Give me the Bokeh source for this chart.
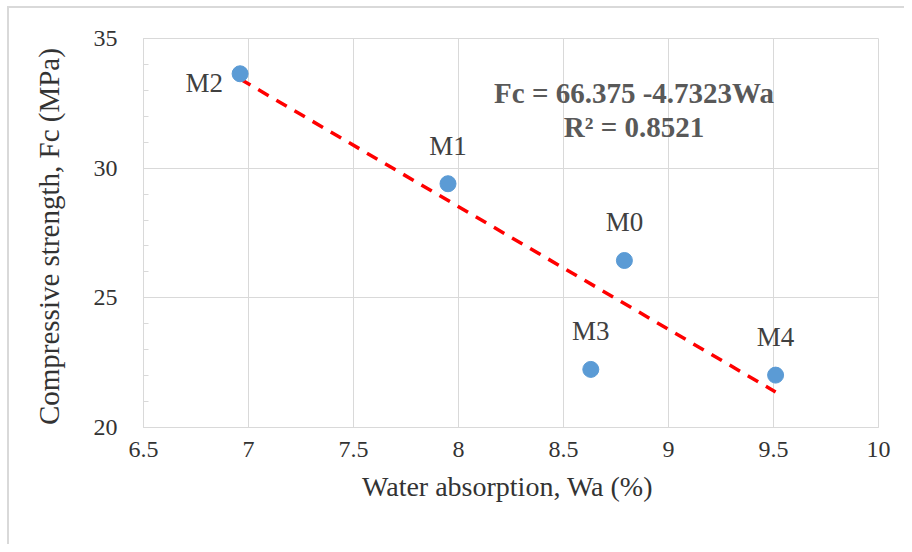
from bokeh.plotting import figure
from bokeh.models import Range1d, SingleIntervalTicker, ColumnDataSource
from bokeh.core.properties import value
from bokeh.embed import file_html
from bokeh.resources import INLINE

# ---- data ----
mix_names = ["M2", "M1", "M0", "M3", "M4"]
water_absorption = [6.96, 7.95, 8.79, 8.63, 9.51]
compressive_strength = [33.64, 29.40, 26.44, 22.24, 22.02]
fit_intercept = 66.375
fit_slope = -4.7323
fit_r2 = 0.8521
x_ticks = [6.5, 7, 7.5, 8, 8.5, 9, 9.5, 10]
y_ticks = [20, 25, 30, 35]

FONT = "Liberation Serif"

p = figure(width=904, height=544, output_backend="svg", toolbar_location=None,
           x_range=Range1d(6.5, 10), y_range=Range1d(20, 35),
           min_border_left=143, min_border_right=26, min_border_top=38, min_border_bottom=117)
p.background_fill_color = "white"
p.border_fill_color = None
p.outline_line_color = "#d9d9d9"
p.outline_line_width = 1

# outer chart-area border (left and top edges visible), drawn behind the transparent canvas margin
p.styles = {
    "background-color": "white",
    "background-image": "linear-gradient(#d9d9d9, #d9d9d9), linear-gradient(#d9d9d9, #d9d9d9)",
    "background-size": "2px 100%, 100% 2px",
    "background-position": "7px 6px, 7px 6px",
    "background-repeat": "no-repeat",
}

p.xaxis.ticker = SingleIntervalTicker(interval=0.5, num_minor_ticks=0)
p.yaxis.ticker = SingleIntervalTicker(interval=5, num_minor_ticks=5)

for ax in (p.xaxis, p.yaxis):
    ax.axis_line_color = "#d9d9d9"
    ax.major_tick_line_color = None
    ax.major_tick_in = 0
    ax.major_tick_out = 0
    ax.major_label_text_font = FONT
    ax.major_label_text_font_size = "24px"
    ax.major_label_text_color = "#333333"
    ax.axis_label_text_font = FONT
    ax.axis_label_text_font_style = "normal"
    ax.axis_label_text_color = "#333333"

p.xaxis.minor_tick_line_color = None
p.yaxis.minor_tick_line_color = "#d9d9d9"
p.yaxis.minor_tick_in = 5
p.yaxis.minor_tick_out = 0

p.xaxis.axis_label = "Water absorption, Wa  (%)"
p.yaxis.axis_label = "Compressive strength,  Fc (MPa)"
p.xaxis.axis_label_text_font_size = "28px"
p.yaxis.axis_label_text_font_size = "29px"
p.xaxis.major_label_standoff = 14
p.yaxis.major_label_standoff = 26
p.xaxis.axis_label_standoff = 11
p.yaxis.axis_label_standoff = 26

p.xgrid.grid_line_color = "#d9d9d9"
p.ygrid.grid_line_color = "#d9d9d9"

# trend line over data range
x0, x1 = min(water_absorption), max(water_absorption)
p.line([x0, x1], [fit_intercept + fit_slope * x0, fit_intercept + fit_slope * x1],
       line_color="#ff0000", line_width=3.5, line_dash="12 9")

src = ColumnDataSource(dict(x=water_absorption, y=compressive_strength, name=mix_names))
p.scatter("x", "y", source=src, size=16, fill_color="#5b9bd5", line_color="#5b9bd5")

# point labels (M2 sits left of its point, others above)
label_style = {"M2": ("right", -17, 9)}
for n, x, y in zip(mix_names, water_absorption, compressive_strength):
    align, dx, dy = label_style.get(n, ("center", 0, -38))
    p.text(x=[x], y=[y], text=[n], x_offset=dx, y_offset=dy, text_align=align,
           text_baseline="middle", text_font=value(FONT), text_font_size="27px",
           text_color="#404040")

eq1 = f"Fc = {fit_intercept} -{abs(fit_slope)}Wa"
eq2 = f"R² = {fit_r2}"
p.text(x=[8.836], y=[32.9], text=[eq1], text_align="center", text_baseline="middle",
       text_font=value(FONT), text_font_size="29px", text_font_style="bold",
       text_color="#595959")
p.text(x=[8.836], y=[31.57], text=[eq2], text_align="center", text_baseline="middle",
       text_font=value(FONT), text_font_size="29px", text_font_style="bold",
       text_color="#595959")

open("out.html", "w").write(file_html(p, INLINE))
